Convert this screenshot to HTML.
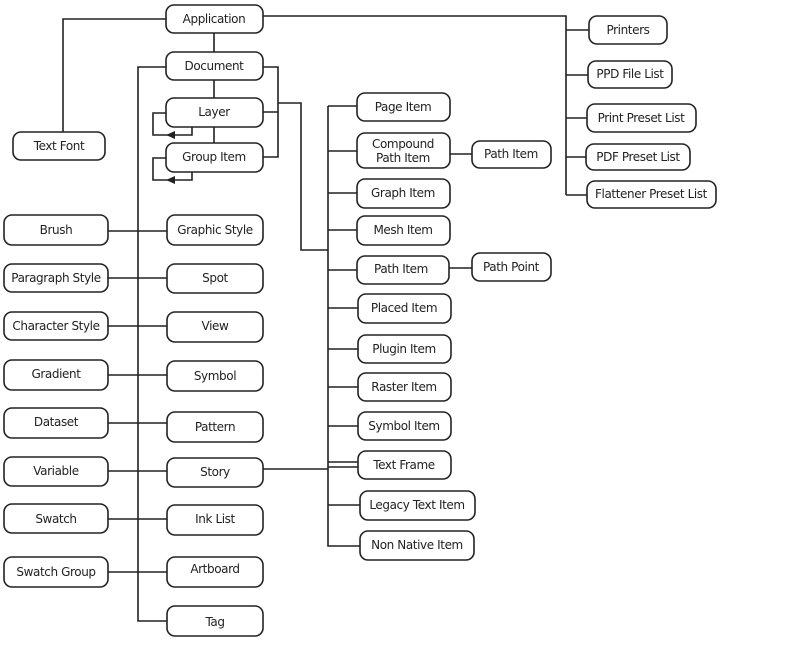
<!DOCTYPE html>
<html><head><meta charset="utf-8"><style>
html,body{margin:0;padding:0;background:#fff;width:785px;height:656px;overflow:hidden}
svg text{font-family:"DejaVu Sans","Liberation Sans",sans-serif;font-size:12px;fill:#222;text-anchor:middle;dominant-baseline:central;letter-spacing:-0.4px}
</style></head><body>
<svg width="785" height="656" viewBox="0 0 785 656" xmlns="http://www.w3.org/2000/svg">
<g fill="none" stroke="#222" stroke-width="1.6">
<!-- Application connections -->
<path d="M166 19 H63 V132"/>
<path d="M263 16 H566 V195"/>
<path d="M566 30 H589 M566 75 H588 M566 118 H587 M566 157 H586 M566 195 H587"/>
<path d="M214 33 V52 M214 80 V98 M214 127 V143"/>
<!-- Document left bus -->
<path d="M166 67 H138 V621 H167"/>
<path d="M263 67 H278 V157 H263 M263 112 H278"/>
<path d="M278 103 H301 V250 H328"/>
<path d="M328 106 V546 H360"/>
<path d="M328 106 H357 M328 151 H357 M328 193 H357 M328 230 H357 M328 270 H357 M328 308 H358 M328 349 H358 M328 387 H358 M328 426 H358 M328 462 H358 M328 467 H358 M328 505 H360"/>
<path d="M450 154 H472 M449 268 H472"/>
<path d="M263 469 H328"/>
<!-- left-mid connections -->
<path d="M108 231 H167 M108 278 H167 M108 326 H167 M108 375 H167 M108 423 H167 M108 471 H167 M108 519 H167 M108 572 H167"/>
<!-- loops -->
<path d="M166 113 H153 V135 H192 V127"/>
<path d="M166 158 H153 V180 H192 V172"/>
</g>
<path d="M166 135 L175 131 L175 139 Z" fill="#222"/>
<path d="M166 180 L175 176 L175 184 Z" fill="#222"/>
<g fill="#fff" stroke="#222" stroke-width="1.6">
<rect x="166" y="5" width="97" height="28" rx="8"/>
<rect x="166" y="52" width="97" height="28" rx="8"/>
<rect x="166" y="98" width="97" height="29" rx="8"/>
<rect x="166" y="143" width="97" height="29" rx="8"/>
<rect x="13" y="132" width="92" height="28" rx="8"/>
<rect x="589" y="16" width="78" height="28" rx="8"/>
<rect x="588" y="61" width="84" height="27" rx="8"/>
<rect x="587" y="104" width="109" height="28" rx="8"/>
<rect x="586" y="144" width="104" height="26" rx="8"/>
<rect x="587" y="181" width="129" height="27" rx="8"/>
<rect x="357" y="93" width="93" height="28" rx="8"/>
<rect x="357" y="133" width="93" height="35" rx="8"/>
<rect x="472" y="141" width="79" height="27" rx="8"/>
<rect x="357" y="179" width="93" height="29" rx="8"/>
<rect x="357" y="216" width="93" height="29" rx="8"/>
<rect x="357" y="256" width="92" height="28" rx="8"/>
<rect x="472" y="253" width="79" height="28" rx="8"/>
<rect x="358" y="294" width="93" height="29" rx="8"/>
<rect x="358" y="335" width="93" height="28" rx="8"/>
<rect x="358" y="373" width="93" height="28" rx="8"/>
<rect x="358" y="412" width="93" height="28" rx="8"/>
<rect x="358" y="451" width="93" height="28" rx="8"/>
<rect x="360" y="491" width="115" height="29" rx="8"/>
<rect x="360" y="531" width="114" height="29" rx="8"/>
<rect x="4" y="215" width="104" height="30" rx="8"/>
<rect x="4" y="264" width="104" height="28" rx="8"/>
<rect x="4" y="312" width="104" height="28" rx="8"/>
<rect x="4" y="360" width="104" height="30" rx="8"/>
<rect x="4" y="408" width="104" height="30" rx="8"/>
<rect x="4" y="457" width="104" height="29" rx="8"/>
<rect x="4" y="504" width="104" height="29" rx="8"/>
<rect x="4" y="557" width="104" height="30" rx="8"/>
<rect x="167" y="215" width="96" height="30" rx="8"/>
<rect x="167" y="264" width="96" height="29" rx="8"/>
<rect x="167" y="312" width="96" height="30" rx="8"/>
<rect x="167" y="361" width="96" height="30" rx="8"/>
<rect x="167" y="412" width="96" height="30" rx="8"/>
<rect x="167" y="458" width="96" height="29" rx="8"/>
<rect x="167" y="505" width="96" height="30" rx="8"/>
<rect x="167" y="557" width="96" height="30" rx="8"/>
<rect x="167" y="606" width="96" height="30" rx="8"/>
</g>
<text x="214" y="19">Application</text>
<text x="214" y="66">Document</text>
<text x="214" y="112">Layer</text>
<text x="214" y="157">Group Item</text>
<text x="59" y="146">Text Font</text>
<text x="628" y="30">Printers</text>
<text x="630" y="74">PPD File List</text>
<text x="641" y="118">Print Preset List</text>
<text x="638" y="157">PDF Preset List</text>
<text x="651" y="194">Flattener Preset List</text>
<text x="403" y="107">Page Item</text>
<text x="403" y="144">Compound</text>
<text x="403" y="158">Path Item</text>
<text x="511" y="154">Path Item</text>
<text x="403" y="193">Graph Item</text>
<text x="403" y="230">Mesh Item</text>
<text x="401" y="269">Path Item</text>
<text x="511" y="267">Path Point</text>
<text x="404" y="308">Placed Item</text>
<text x="404" y="349">Plugin Item</text>
<text x="404" y="387">Raster Item</text>
<text x="404" y="426">Symbol Item</text>
<text x="404" y="465">Text Frame</text>
<text x="417" y="505">Legacy Text Item</text>
<text x="417" y="545">Non Native Item</text>
<text x="56" y="230">Brush</text>
<text x="56" y="278">Paragraph Style</text>
<text x="56" y="326">Character Style</text>
<text x="56" y="374">Gradient</text>
<text x="56" y="422">Dataset</text>
<text x="56" y="471">Variable</text>
<text x="56" y="519">Swatch</text>
<text x="56" y="572">Swatch Group</text>
<text x="215" y="230">Graphic Style</text>
<text x="215" y="278">Spot</text>
<text x="215" y="326">View</text>
<text x="215" y="376">Symbol</text>
<text x="215" y="427">Pattern</text>
<text x="215" y="472">Story</text>
<text x="215" y="519">Ink List</text>
<text x="215" y="569">Artboard</text>
<text x="215" y="622">Tag</text>
</svg>
</body></html>
